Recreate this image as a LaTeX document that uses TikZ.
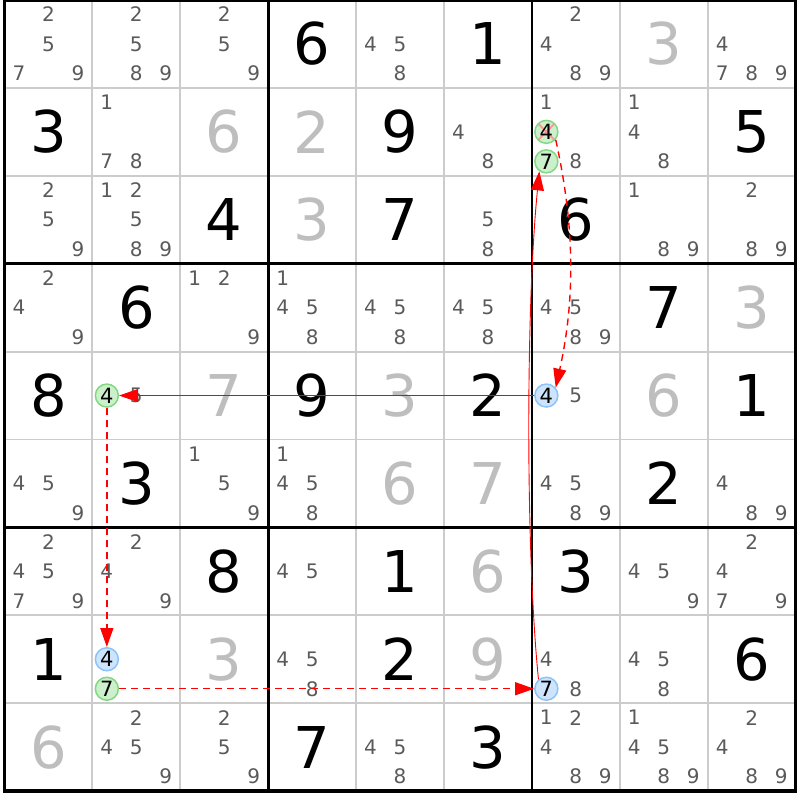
\documentclass[tikz,border=0pt]{standalone}
\usepackage{fontspec}
\setmainfont{DejaVu Sans}
\usetikzlibrary{arrows.meta}
\definecolor{thingrid}{RGB}{204,204,204}
\definecolor{candgray}{RGB}{90,90,90}
\definecolor{solvedgray}{RGB}{190,190,190}
\definecolor{markgreen}{RGB}{130,215,130}
\definecolor{fillgreen}{RGB}{204,240,204}
\definecolor{markblue}{RGB}{140,195,250}
\definecolor{fillblue}{RGB}{206,228,252}
\definecolor{crossred}{RGB}{255,150,150}
\definecolor{linkred}{RGB}{255,0,0}
\tikzset{
  given/.style={inner sep=0pt, font=\fontsize{57.6}{60}\selectfont},
  solved/.style={given, text=solvedgray},
  cand/.style={inner sep=0pt, text=candgray, font=\fontsize{20}{22}\selectfont},
  greenmark/.style={circle, draw=markgreen, fill=fillgreen, line width=1.5pt,
    minimum size=23pt, inner sep=0pt, font=\fontsize{21}{22}\selectfont},
  bluemark/.style={greenmark, draw=markblue, fill=fillblue},
  crossed/.style={path picture={\draw[crossred, line width=1.8pt]
    (path picture bounding box.north west) -- (path picture bounding box.south east)
    (path picture bounding box.north east) -- (path picture bounding box.south west);}},
  weaklink/.style={linkred, line width=1.4pt, dash pattern=on 7pt off 5pt,
    -{Triangle[length=19pt,width=13pt]}},
  stronglink/.style={linkred, line width=0.9pt, -{Triangle[length=19pt,width=13pt]}},
}
\begin{document}
\begin{tikzpicture}[x=87.9pt, y=-87.9pt]
  \useasboundingbox (-0.0512,0) rectangle (9.0501,9.1013);
  % grid
  \foreach \i in {1,2,4,5,7,8} {
    \draw[thingrid, line width=1.8pt] (\i,0) -- (\i,9);
    \draw[thingrid, line width=1.8pt] (0,\i) -- (9,\i);
  }
  \foreach \i in {3,6} {
    \draw[line width=2.8pt] (\i,0) -- (\i,9);
    \draw[line width=2.8pt] (0,\i) -- (9,\i);
  }
  \draw[line width=3.7pt] (0,0) rectangle (9,9);
  % givens
  \foreach \r/\c/\d in {1/4/6, 1/6/1, 2/1/3, 2/5/9, 2/9/5, 3/3/4, 3/5/7, 3/7/6,
      4/2/6, 4/8/7, 5/1/8, 5/4/9, 5/6/2, 5/9/1, 6/2/3, 6/8/2, 7/3/8, 7/5/1,
      7/7/3, 8/1/1, 8/5/2, 8/9/6, 9/4/7, 9/6/3}
    \node[given] at ({\c-0.5},{\r-0.5}) {\d};
  % solved
  \foreach \r/\c/\d in {1/8/3, 2/3/6, 2/4/2, 3/4/3, 4/9/3, 5/3/7, 5/5/3, 5/8/6,
      6/5/6, 6/6/7, 7/6/6, 8/3/3, 8/6/9, 9/1/6}
    \node[solved] at ({\c-0.5},{\r-0.5}) {\d};
  % candidates
  \foreach \r/\c/\ds in {1/1/{2,5,7,9}, 1/2/{2,5,8,9}, 1/3/{2,5,9}, 1/5/{4,5,8},
      1/7/{2,4,8,9}, 1/9/{4,7,8,9},
      2/2/{1,7,8}, 2/6/{4,8}, 2/7/{1,8}, 2/8/{1,4,8},
      3/1/{2,5,9}, 3/2/{1,2,5,8,9}, 3/6/{5,8}, 3/8/{1,8,9}, 3/9/{2,8,9},
      4/1/{2,4,9}, 4/3/{1,2,9}, 4/4/{1,4,5,8}, 4/5/{4,5,8}, 4/6/{4,5,8}, 4/7/{4,5,8,9},
      5/2/{5}, 5/7/{5},
      6/1/{4,5,9}, 6/3/{1,5,9}, 6/4/{1,4,5,8}, 6/7/{4,5,8,9}, 6/9/{4,8,9},
      7/1/{2,4,5,7,9}, 7/2/{2,4,9}, 7/4/{4,5}, 7/8/{4,5,9}, 7/9/{2,4,7,9},
      8/4/{4,5,8}, 8/7/{4,8}, 8/8/{4,5,8},
      9/2/{2,4,5,9}, 9/3/{2,5,9}, 9/5/{4,5,8}, 9/7/{1,2,4,8,9}, 9/8/{1,4,5,8,9},
      9/9/{2,4,8,9}} {
    \foreach \d in \ds {
      \pgfmathsetmacro\cx{\c-0.5+(mod(\d-1,3)-1)*0.3356}
      \pgfmathsetmacro\cy{\r-0.5+(floor((\d-1)/3)-1)*0.3356}
      \node[cand] at (\cx,\cy) {\d};
    }
  }
  % marked candidates
  \node[greenmark, crossed] (r2c7-4) at (6.1644,1.5) {4};
  \node[greenmark] (r2c7-7) at (6.1644,1.8356) {7};
  \node[greenmark] (r5c2-4) at (1.1644,4.5) {4};
  \node[bluemark] (r5c7-4) at (6.1644,4.5) {4};
  \node[bluemark] (r8c2-4) at (1.1644,7.5) {4};
  \node[greenmark] (r8c2-7) at (1.1644,7.8356) {7};
  \node[bluemark] (r8c7-7) at (6.1644,7.8356) {7};
  % links
  \draw[weaklink] (r8c2-7) -- (r8c7-7);
  \draw[stronglink] (r8c7-7.130) .. controls +(-0.15,-1.5) and +(-0.15,1.5) .. (r2c7-7.235);
  \draw[weaklink] (r2c7-4.-40) .. controls +(0.22,1) and +(0.22,-1) .. (r5c7-4.40);
  \draw[stronglink] (r5c7-4) -- (r5c2-4);
  \draw[weaklink] (r5c2-4) -- (r8c2-4);
\end{tikzpicture}
\end{document}
